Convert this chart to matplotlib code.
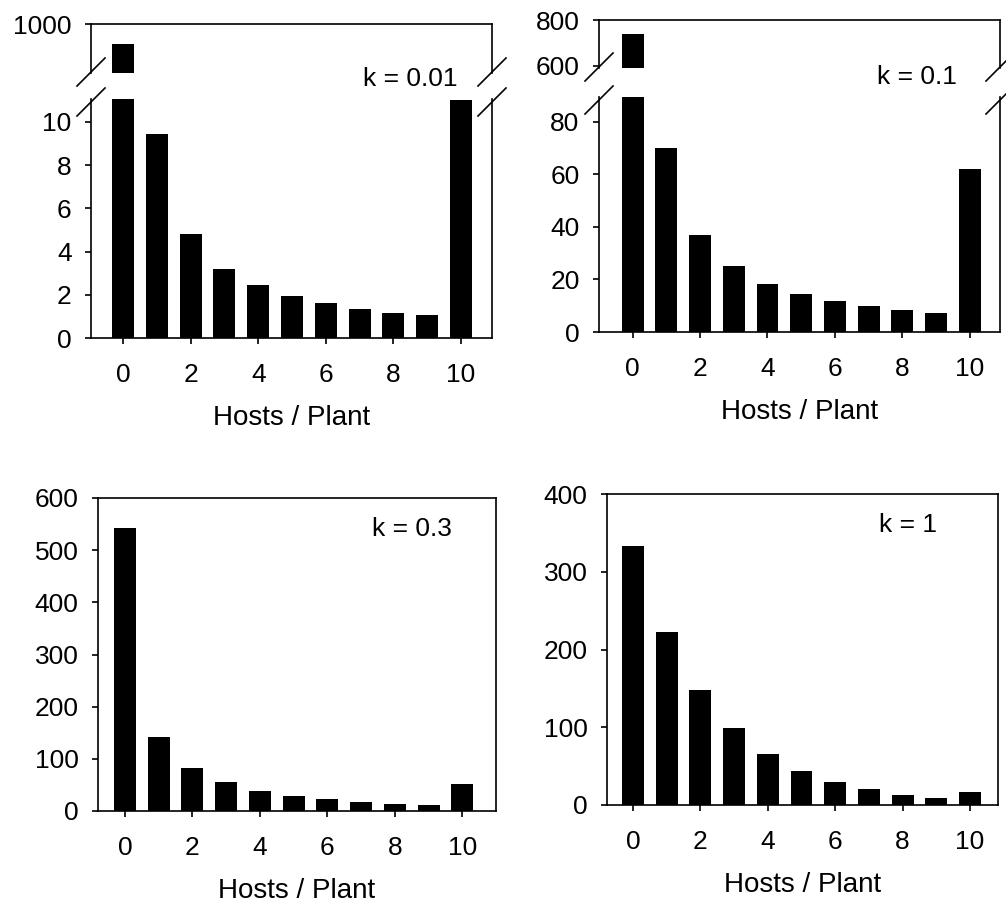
import matplotlib
matplotlib.use("Agg")
import matplotlib.pyplot as plt
from matplotlib.lines import Line2D

plt.rcParams['font.family'] = ['Liberation Sans', 'DejaVu Sans']
plt.rcParams['font.size'] = 19

W, H = 1006, 909

# number of plants carrying n hosts (10 = 10 or more)
hosts = [0, 1, 2, 3, 4, 5, 6, 7, 8, 9, 10]
k001 = [950, 9.45, 4.8, 3.2, 2.45, 1.95, 1.6, 1.35, 1.17, 1.07, 11]
k01 = [740, 70, 37, 25, 18.3, 14.5, 11.8, 9.8, 8.3, 7.2, 62]
k03 = [543, 142, 82, 55, 39, 29, 23, 17, 13, 11, 52]
k1 = [333, 222, 148, 99, 66, 44, 29, 20, 13, 9, 17]

xticks = [0, 2, 4, 6, 8, 10]


def box(left, top, right, bottom):
    # pixel box -> figure fraction rect
    return [left / W, 1 - bottom / H, (right - left) / W, (bottom - top) / H]


def style(ax):
    for s in ax.spines.values():
        s.set_linewidth(1.2)
    ax.tick_params(direction='out', length=4, width=1.2, pad=10,
                   top=False, right=False)
    ax.tick_params(axis='x', pad=14)


def xlab(ax):
    ax.set_xlabel('Hosts / Plant', fontsize=20, labelpad=13)


def bars(ax, vals):
    ax.bar(hosts, vals, width=0.65, color='black')


def slash(fig, x, y):
    d = 14
    fig.add_artist(Line2D([(x - d) / W, (x + d) / W],
                          [1 - (y + d) / H, 1 - (y - d) / H],
                          color='black', lw=1.2))


fig = plt.figure(figsize=(W / 100, H / 100), dpi=100)


def broken(left, right, top, cut, restart, bottom, vals, up_lim, up_ticks,
           low_lim, low_ticks, xlim):
    up = fig.add_axes(box(left, top, right, cut))
    low = fig.add_axes(box(left, restart, right, bottom))
    for ax in (up, low):
        bars(ax, vals)
        style(ax)
        ax.set_xlim(*xlim)
    up.set_ylim(*up_lim)
    up.set_yticks(up_ticks)
    up.spines['bottom'].set_visible(False)
    up.tick_params(bottom=False, labelbottom=False)
    low.set_ylim(*low_lim)
    low.set_yticks(low_ticks)
    low.spines['top'].set_visible(False)
    low.set_xticks(xticks)
    xlab(low)
    for x in (left, right):
        slash(fig, x, cut - 1)
        slash(fig, x, restart + 3)
    return up, low


broken(91, 492, 24, 73, 99, 338, k001, (880, 1000), [1000],
       (0, 11.06), [0, 2, 4, 6, 8, 10], (-0.95, 10.92))
fig.text(410 / W, 1 - 79 / H, 'k = 0.01', ha='center', va='center')

broken(599, 1000, 20, 68, 97, 332, k01, (590, 800), [600, 800],
       (0, 89.5), [0, 20, 40, 60, 80], (-1.0, 10.9))
fig.text(917 / W, 1 - 77 / H, 'k = 0.1', ha='center', va='center')

ax3 = fig.add_axes(box(98, 498, 496, 811))
bars(ax3, k03)
style(ax3)
ax3.set_xlim(-0.8, 11.0)
ax3.set_ylim(0, 600)
ax3.set_yticks(range(0, 601, 100))
ax3.set_xticks(xticks)
xlab(ax3)
ax3.text(0.79, 0.9, 'k = 0.3', transform=ax3.transAxes, ha='center', va='center')

ax4 = fig.add_axes(box(607, 494, 998, 805))
bars(ax4, k1)
style(ax4)
ax4.set_xlim(-0.77, 10.83)
ax4.set_ylim(0, 400)
ax4.set_yticks(range(0, 401, 100))
ax4.set_xticks(xticks)
xlab(ax4)
ax4.text(0.77, 0.9, 'k = 1', transform=ax4.transAxes, ha='center', va='center')

fig.savefig('out.png', dpi=100)
